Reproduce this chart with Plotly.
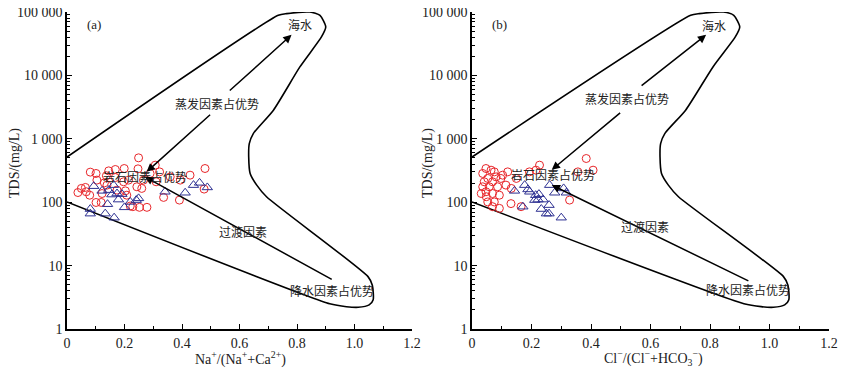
import plotly.graph_objects as go
import math

# ---- Gibbs boundary envelope (x ratio, TDS mg/L) ----
env_x = [0.0, 0.735, 0.764, 0.845, 0.880, 0.900, 0.885, 0.810, 0.718, 0.648, 0.634, 0.632,
         0.637, 0.660, 0.694, 1.047, 1.062, 1.065, 1.051, 1.013, 0.972, 0.914, 0.0]
env_y = [515, 88700, 94200, 100000, 88700, 58100, 40400, 13600, 2830, 1210, 841, 519,
         284, 186, 122, 6.7, 4.9, 2.9, 2.4, 2.2, 2.25, 2.5, 101]

# ---- panel (a): Na+/(Na+ + Ca2+) ----
a_circ_x = [0.038, 0.050, 0.064, 0.067, 0.079, 0.081, 0.101, 0.104, 0.101, 0.119, 0.122, 0.130,
            0.137, 0.139, 0.145, 0.168, 0.168, 0.174, 0.197, 0.199, 0.203, 0.208, 0.214, 0.220,
            0.229, 0.243, 0.247, 0.249, 0.252, 0.260, 0.266, 0.278, 0.289, 0.307, 0.310, 0.322,
            0.336, 0.359, 0.394, 0.391, 0.428, 0.480, 0.477]
a_circ_y = [142, 165, 171, 146, 129, 298, 284, 223, 99, 99, 137, 202,
            261, 186, 312, 328, 245, 155, 210, 340, 151, 129, 223, 87,
            85, 175, 336, 501, 83, 165, 223, 83, 284, 384, 210, 301,
            119, 251, 223, 108, 267, 340, 161]
a_tri_x = [0.093, 0.081, 0.081, 0.122, 0.133, 0.141, 0.145, 0.156, 0.162, 0.164, 0.174, 0.179,
           0.191, 0.200, 0.220, 0.241, 0.249, 0.341, 0.411, 0.440, 0.461, 0.488]
a_tri_y = [179, 78, 66, 151, 66, 93, 155, 132, 186, 57, 137, 110,
           134, 83, 101, 108, 115, 146, 141, 186, 202, 171]

# ---- panel (b): Cl-/(Cl- + HCO3-) ----
b_circ_x = [0.031, 0.036, 0.036, 0.041, 0.047, 0.047, 0.053, 0.053, 0.058, 0.069, 0.069, 0.069,
            0.075, 0.075, 0.081, 0.086, 0.092, 0.092, 0.097, 0.103, 0.114, 0.120, 0.131, 0.132,
            0.149, 0.165, 0.193, 0.215, 0.227, 0.328, 0.356, 0.384, 0.407, 0.064, 0.048]
b_circ_y = [137, 175, 284, 210, 340, 146, 237, 101, 175, 210, 137, 85,
            301, 101, 251, 175, 129, 80, 237, 267, 186, 301, 95, 165,
            237, 85, 301, 320, 384, 108, 301, 489, 320, 320, 122]
b_tri_x = [0.143, 0.171, 0.177, 0.188, 0.194, 0.211, 0.214, 0.222, 0.225, 0.233, 0.239, 0.250,
           0.259, 0.259, 0.261, 0.278, 0.300, 0.308, 0.317]
b_tri_y = [151, 85, 186, 159, 146, 108, 129, 110, 134, 78, 110, 66,
           66, 90, 186, 141, 57, 165, 141]

# ---- labels and arrows (x, TDS) ----
y_tickvals = [1, 10, 100, 1000, 10000, 100000]
y_ticktext = ["1", "10", "100", "1 000", "10 000", "100 000"]
x_tickvals = [0, 0.2, 0.4, 0.6, 0.8, 1.0, 1.2]
x_ticktext = ["0", "0.2", "0.4", "0.6", "0.8", "1.0", "1.2"]

zone_labels = ["海水", "蒸发因素占优势", "岩石因素占优势", "过渡因素", "降水因素占优势"]
a_label_x = [0.81, 0.52, 0.27, 0.613, 0.92]
a_label_y = [63000, 3630, 251, 34.3, 4.12]
b_label_x = [0.815, 0.52, 0.273, 0.582, 0.927]
b_label_y = [60300, 4370, 275, 40.7, 4.23]

# arrows: (tail x, tail y, head x, head y)
a_arrows = [(0.561, 5500, 0.781, 43600), (0.503, 2510, 0.277, 302), (0.926, 5.9, 0.271, 251)]
b_arrows = [(0.565, 6610, 0.787, 43600), (0.503, 2690, 0.268, 324), (0.934, 5.6, 0.268, 186)]

SERIF = "Liberation Serif, Times New Roman, serif"
CJK = "Noto Sans CJK SC"
RED = "#e8262a"
BLUE = "#2e3192"

W, H = 850, 369
OFF = 8  # page body margin offset

def px_x(p):
    return (p - OFF) / W

def px_y(p):
    return (H - (p - OFF)) / H

fig = go.Figure()

panels = [
    ("x", "y", a_circ_x, a_circ_y, a_tri_x, a_tri_y, a_label_x, a_label_y, a_arrows, "(a)"),
    ("x2", "y2", b_circ_x, b_circ_y, b_tri_x, b_tri_y, b_label_x, b_label_y, b_arrows, "(b)"),
]

annotations = []
for xa, ya, cx, cy, tx, ty, lx, ly, arrows, tag in panels:
    fig.add_trace(go.Scatter(x=env_x, y=env_y, mode="lines", xaxis=xa, yaxis=ya,
                             line=dict(color="black", width=1.6, shape="spline", smoothing=0.6),
                             showlegend=False, hoverinfo="skip"))
    fig.add_trace(go.Scatter(x=cx, y=cy, mode="markers", xaxis=xa, yaxis=ya,
                             marker=dict(symbol="circle-open", size=8, color=RED, line=dict(width=1)),
                             showlegend=False))
    fig.add_trace(go.Scatter(x=tx, y=ty, mode="markers", xaxis=xa, yaxis=ya,
                             marker=dict(symbol="triangle-up-open", size=9, color=BLUE, line=dict(width=1)),
                             showlegend=False))
    for (x0, y0, x1, y1) in arrows:
        annotations.append(dict(x=x1, y=math.log10(y1), ax=x0, ay=math.log10(y0),
                                xref=xa, yref=ya, axref=xa, ayref=ya, text="",
                                showarrow=True, arrowhead=2, arrowsize=1.1, arrowwidth=1.5,
                                arrowcolor="black"))
    for t, x, y in zip(zone_labels, lx, ly):
        annotations.append(dict(x=x, y=math.log10(y), xref=xa, yref=ya, text=t, showarrow=False,
                                xanchor="center", yanchor="middle",
                                font=dict(family=CJK, size=12, color="#222")))
    annotations.append(dict(x=0.094, y=4.8, xref=xa, yref=ya, text=tag, showarrow=False,
                            xanchor="center", yanchor="middle",
                            font=dict(family=SERIF, size=13, color="#222")))

# axis titles
for px, title in [(15, "TDS/(mg/L)"), (428, "TDS/(mg/L)")]:
    annotations.append(dict(x=px_x(px), y=px_y(163), xref="paper", yref="paper",
                            xanchor="center", yanchor="middle",
                            text=title, textangle=-90, showarrow=False,
                            font=dict(family=SERIF, size=14, color="#222")))
annotations.append(dict(x=px_x(240), y=px_y(358), xref="paper", yref="paper",
                        xanchor="center", yanchor="middle",
                        text="Na<sup>+</sup>/(Na<sup>+</sup>+Ca<sup>2+</sup>)", showarrow=False,
                        font=dict(family=SERIF, size=14, color="#222")))
annotations.append(dict(x=px_x(653), y=px_y(358), xref="paper", yref="paper",
                        xanchor="center", yanchor="middle",
                        text="Cl<sup>−</sup>/(Cl<sup>−</sup>+HCO<sub>3</sub><sup>−</sup>)", showarrow=False,
                        font=dict(family=SERIF, size=14, color="#222")))

minor_y = [m * 10 ** d for d in range(0, 5) for m in range(2, 10)]

def xaxis_cfg(dom, anchor):
    return dict(domain=dom, anchor=anchor, range=[0, 1.2], tickmode="array",
                tickvals=x_tickvals, ticktext=x_ticktext, ticks="inside", ticklen=5,
                tickwidth=1.2, tickcolor="black", showline=True, linecolor="black",
                linewidth=1.5, showgrid=False, zeroline=False, automargin=False,
                ticklabeloverflow="allow",
                tickfont=dict(family=SERIF, size=14, color="#222"),
                minor=dict(tickmode="array", tickvals=[0.1, 0.3, 0.5, 0.7, 0.9, 1.1],
                           ticks="inside", ticklen=3, tickcolor="black", tickwidth=1))

def yaxis_cfg(anchor):
    return dict(type="log", domain=[px_y(329), px_y(12)], anchor=anchor, range=[0, 5],
                tickmode="array", tickvals=y_tickvals, ticktext=y_ticktext,
                ticks="inside", ticklen=5, tickwidth=1.2, tickcolor="black",
                showline=True, linecolor="black", linewidth=1.5, showgrid=False,
                zeroline=False, automargin=False, ticklabeloverflow="allow",
                tickfont=dict(family=SERIF, size=14, color="#222"),
                minor=dict(tickmode="array", tickvals=minor_y, ticks="inside", ticklen=3,
                           tickcolor="black", tickwidth=1))

fig.update_layout(
    width=W, height=H,
    margin=dict(l=0, r=0, t=0, b=0, autoexpand=False),
    paper_bgcolor="white", plot_bgcolor="white",
    xaxis=xaxis_cfg([px_x(67), px_x(412)], "y"),
    yaxis=yaxis_cfg("x"),
    xaxis2=xaxis_cfg([px_x(472), px_x(829)], "y2"),
    yaxis2=yaxis_cfg("x2"),
    annotations=annotations,
    showlegend=False,
)

fig.write_html("out.html")
